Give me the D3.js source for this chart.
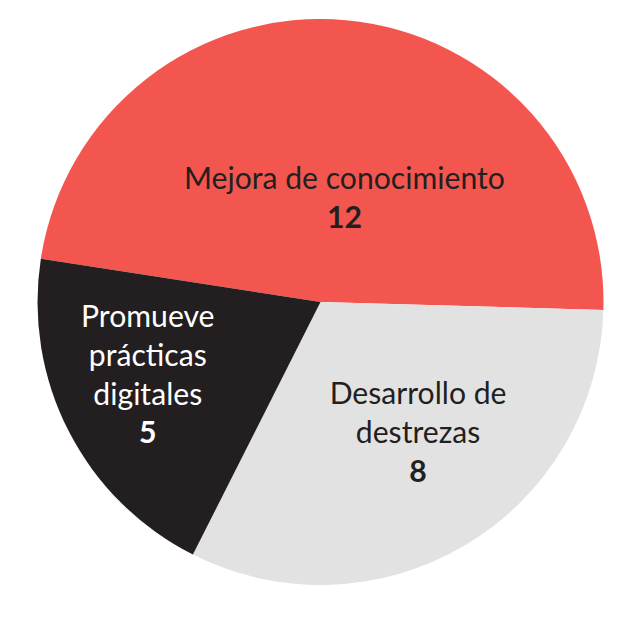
<!DOCTYPE html>
<html>
<head>
<meta charset="utf-8">
<script src="https://cdn.jsdelivr.net/npm/d3@7"></script>
<style>
  html, body { margin: 0; padding: 0; background: #ffffff; }
  svg { display: block; }
</style>
</head>
<body>
<div id="chart"></div>
<script>
// ---- data ----
const categories = ["Mejora de conocimiento", "Desarrollo de destrezas", "Promueve prácticas digitales"];
const values = [12, 8, 5];
const labelLines = [
  ["Mejora de conocimiento"],
  ["Desarrollo de", "destrezas"],
  ["Promueve", "prácticas", "digitales"]
];
const colors = ["#F2564F", "#E2E2E2", "#231F20"];
const textColors = ["#231F20", "#231F20", "#FFFFFF"];
// label placement (polar, relative to pie centre): angle in degrees, radius in px
const labelAngles = [13, 143.3, 247.1];
const labelRadii = [106.5, 163.3, 187.5];

// ---- layout ----
const width = 640, height = 617;
const cx = 320.5, cy = 302, radius = 283;
const startDeg = -81.2;
const lineHeight = 38.7;
const fontFamily = "Lato, 'Open Sans', 'Noto Sans', sans-serif";

const svg = d3.select("#chart").append("svg")
  .attr("width", width).attr("height", height);

const g = svg.append("g").attr("transform", `translate(${cx},${cy})`);

const data = categories.map((c, i) => ({ name: c, value: values[i], i }));

const pie = d3.pie()
  .value(d => d.value)
  .sort(null)
  .startAngle(startDeg * Math.PI / 180)
  .endAngle(startDeg * Math.PI / 180 + 2 * Math.PI);

const arc = d3.arc().innerRadius(0).outerRadius(radius);

const arcs = pie(data);

g.selectAll("path.slice")
  .data(arcs)
  .join("path")
  .attr("class", "slice")
  .attr("d", arc)
  .attr("fill", d => colors[d.data.i]);

// font size tuned so the longest label matches the reference width
const probe = svg.append("text").attr("font-family", fontFamily).attr("font-size", 30).text("Mejora de conocimiento");
const w = probe.node().getComputedTextLength();
probe.remove();
const fontSize = 30 * 321 / w;

const labels = g.selectAll("g.label")
  .data(arcs)
  .join("g")
  .attr("class", "label")
  .attr("transform", d => {
    const a = labelAngles[d.data.i] * Math.PI / 180;
    const r = labelRadii[d.data.i];
    return `translate(${r * Math.sin(a)},${-r * Math.cos(a)})`;
  });

labels.each(function(d) {
  const lines = labelLines[d.data.i].map(t => ({ t, bold: false }))
    .concat([{ t: String(d.data.value), bold: true }]);
  const n = lines.length;
  const capHalf = fontSize * 0.34;
  d3.select(this).selectAll("text")
    .data(lines)
    .join("text")
    .attr("x", 0)
    .attr("y", (l, k) => (k - (n - 1) / 2) * lineHeight + capHalf)
    .attr("text-anchor", "middle")
    .attr("font-family", fontFamily)
    .attr("font-size", fontSize)
    .attr("font-weight", l => l.bold ? 700 : 400)
    .attr("fill", textColors[d.data.i])
    .text(l => l.t);
});
</script>
</body>
</html>
